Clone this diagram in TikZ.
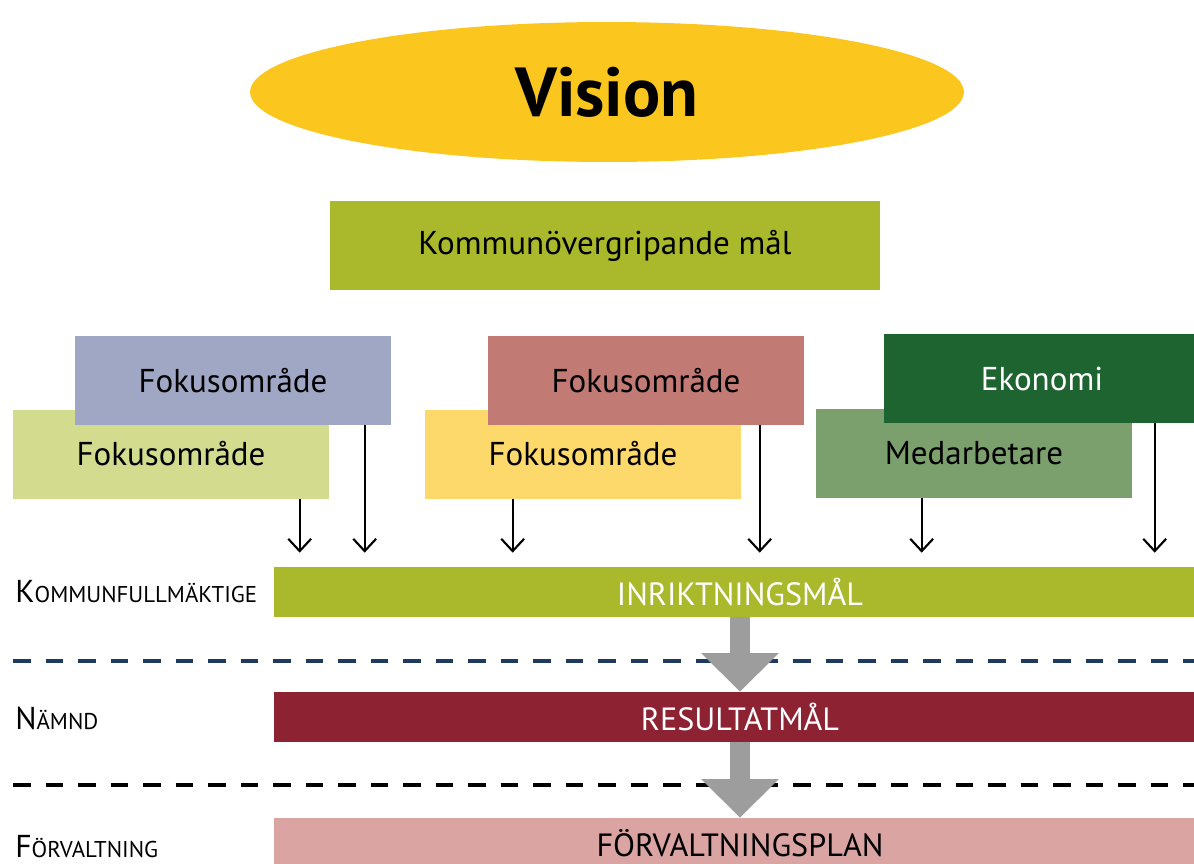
\documentclass[tikz,border=0pt]{standalone}
\usepackage{fontspec}
\setmainfont{PT Sans}
\usetikzlibrary{positioning}
\usetikzlibrary{calc}
\usetikzlibrary{arrows.meta,shapes.geometric}
\definecolor{visiongul}{HTML}{FBC61E}
\definecolor{oliv}{HTML}{A9B92B}
\definecolor{blagra}{HTML}{A0A7C5}
\definecolor{ljusgron}{HTML}{D2DB8E}
\definecolor{tegel}{HTML}{C27A74}
\definecolor{ljusgul}{HTML}{FDD86B}
\definecolor{morkgron}{HTML}{1E6431}
\definecolor{mellangron}{HTML}{7C9F6E}
\definecolor{vinrod}{HTML}{8C2232}
\definecolor{rosa}{HTML}{D9A4A1}
\definecolor{marin}{HTML}{1F3A5F}
\definecolor{grapil}{HTML}{9D9D9D}
\tikzstyle{ruta}=[rectangle,inner sep=0pt,minimum height=1.78cm,font=\fontsize{18.8}{22}\selectfont]
\tikzstyle{fokus}=[ruta,minimum width=6.32cm]
\tikzstyle{balk}=[rectangle,inner sep=0pt,minimum width=18.64cm,minimum height=1cm,font=\fontsize{18.3}{22}\selectfont]
\tikzstyle{pil} = [draw,line width=1.2pt,-{Straight Barb[length=7pt,width=13pt]}]
\tikzstyle{nivapil} = [draw=grapil,line width=11pt,-{Triangle[length=22pt,width=43pt]},grapil]
\tikzstyle{streck} = [line width=2.8pt,dash pattern=on 10pt off 8.5pt]
\tikzstyle{niva} = [anchor=base west,inner sep=0pt]
\newcommand{\kapital}[2]{{\fontsize{18}{20}\selectfont #1}{\fontsize{13}{15}\selectfont #2}}

\begin{document}
\begin{tikzpicture}[x=0.02cm,y=-0.02cm]
    \useasboundingbox (0,0) rectangle (1194,863);

    \node[ellipse,fill=visiongul,minimum width=14.28cm,minimum height=2.8cm,font=\fontsize{39.5}{42}\selectfont\bfseries] (vision) at (607,92) {Vision};
    \node[ruta,fill=oliv,minimum width=11cm] (overgripande) at (605,245.5) {Kommunövergripande mål};

    % undre rutor
    \node[fokus,fill=ljusgron] (fokusB) at (171,454) {Fokusområde};
    \node[fokus,fill=ljusgul] (fokusD) at (583,454) {Fokusområde};
    \node[fokus,fill=mellangron] (medarbetare) at (974,453) {Medarbetare};
    % övre rutor
    \node[fokus,fill=blagra] (fokusA) at (233,380.5) {Fokusområde};
    \node[fokus,fill=tegel] (fokusC) at (646,380.5) {Fokusområde};
    \node[fokus,fill=morkgron,text=white] (ekonomi) at (1042,378.5) {Ekonomi};

    \node[balk,fill=oliv,text=white] (inriktning) at (740,592) {INRIKTNINGSMÅL};
    \node[balk,fill=vinrod,text=white] (resultat) at (740,717) {RESULTATMÅL};
    \node[balk,fill=rosa] (plan) at (740,843) {FÖRVALTNINGSPLAN};

    \node[niva] (kf) at (15,602) {\kapital{K}{OMMUNFULLMÄKTIGE}};
    \node[niva] (namnd) at (15,729) {\kapital{N}{ÄMND}};
    \node[niva] (forvaltning) at (15,857) {\kapital{F}{ÖRVALTNING}};

    \foreach \n/\dx in {fokusB/287, fokusA/290, fokusD/88, fokusC/272, medarbetare/106, ekonomi/271}
        \draw[pil] ($(\n.south west)+(\dx,0)$) -- ($(\n.south west |- inriktning.north)+(\dx,-14)$);

    \draw[streck,marin] (13,661) -- (1194,661);
    \draw[streck,black] (13,785) -- (1194,785);

    \draw[nivapil] (inriktning.south) -- (resultat.north);
    \draw[nivapil] (resultat.south) -- (plan.north);
\end{tikzpicture}
\end{document}
